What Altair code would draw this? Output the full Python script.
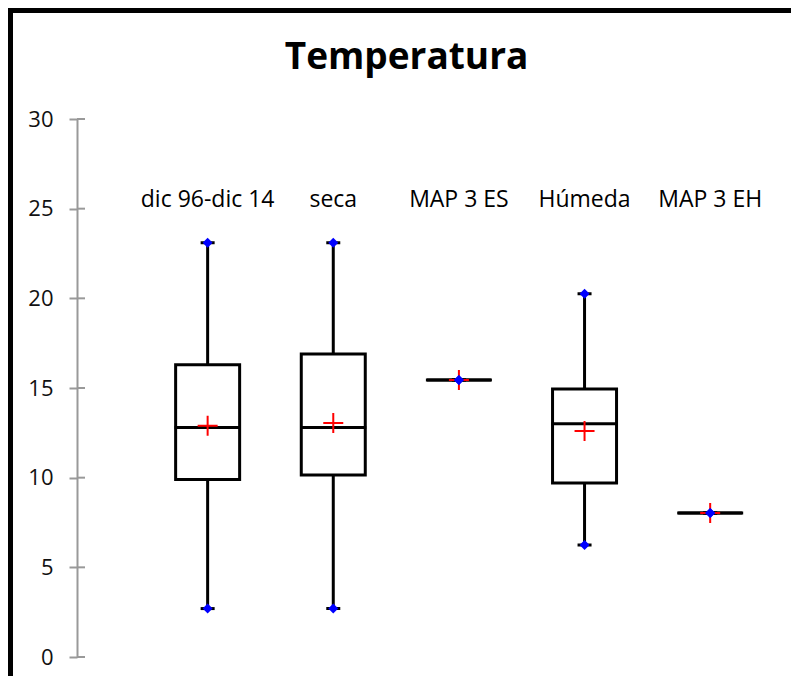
import altair as alt
import pandas as pd

categories = ["dic 96-dic 14", "seca", "MAP 3 ES", "Húmeda", "MAP 3 EH"]
mins = [2.7, 2.7, 15.45, 6.25, 8.03]
q1s = [9.9, 10.15, 15.45, 9.7, 8.03]
medians = [12.8, 12.8, 15.45, 13.0, 8.03]
q3s = [16.3, 16.9, 15.45, 14.95, 8.03]
maxs = [23.1, 23.1, 15.45, 20.25, 8.03]
means = [12.9, 13.05, 15.45, 12.6, 8.03]
y_ticks = [0, 5, 10, 15, 20, 25, 30]

df = pd.DataFrame({
    "cat": categories,
    "idx": list(range(len(categories))),
    "min": mins, "q1": q1s, "median": medians, "q3": q3s, "max": maxs, "mean": means,
})
ticks_df = pd.DataFrame({"t": y_ticks})

FONT = "Open Sans"
PLOT_W = 701
PLOT_H = 538

xs = alt.Scale(domain=[-1, 4.5], nice=False, zero=False)
ys = alt.Scale(domain=[0, 30], nice=False)

x_enc = alt.X("idx:Q", scale=xs, axis=None)

base = alt.Chart(df)

whisk = base.mark_rule(color="black", strokeWidth=3, opacity=1).encode(
    x=x_enc,
    y=alt.Y("min:Q", scale=ys, axis=alt.Axis(
        values=y_ticks, title=None, grid=False,
        domainColor="#999999", domainWidth=2, tickColor="#999999", tickWidth=2, tickSize=8,
        labelFont=FONT, labelFontSize=22, labelColor="#111111", labelPadding=16)),
    y2="max:Q",
)
box = base.mark_bar(size=64, fill="white", stroke="black", strokeWidth=3, opacity=1).encode(
    x=x_enc, y=alt.Y("q1:Q", scale=ys), y2="q3:Q"
)
med = base.mark_tick(orient="horizontal", size=66, thickness=3, color="black", opacity=1).encode(
    x=x_enc, y=alt.Y("median:Q", scale=ys)
)
cap_min = base.mark_tick(orient="horizontal", size=14, thickness=3, color="black", opacity=1).encode(
    x=x_enc, y=alt.Y("min:Q", scale=ys)
)
cap_max = base.mark_tick(orient="horizontal", size=14, thickness=3, color="black", opacity=1).encode(
    x=x_enc, y=alt.Y("max:Q", scale=ys)
)
mean_pt = base.mark_point(shape="M-1,0L1,0M0,-1L0,1", size=400, color="red",
                          strokeWidth=2, filled=False, opacity=1).encode(
    x=x_enc, y=alt.Y("mean:Q", scale=ys)
)
dmin = base.mark_point(shape="diamond", size=100, color="blue", filled=True, opacity=1).encode(
    x=x_enc, y=alt.Y("min:Q", scale=ys)
)
dmax = base.mark_point(shape="diamond", size=100, color="blue", filled=True, opacity=1).encode(
    x=x_enc, y=alt.Y("max:Q", scale=ys)
)
labels = base.mark_text(font=FONT, fontSize=23, color="black", baseline="alphabetic", align="center").encode(
    x=x_enc, y=alt.value(207 - 119), text="cat:N"
)
inner_ticks = alt.Chart(ticks_df).mark_rule(color="#999999", strokeWidth=2).encode(
    x=alt.value(0), x2=alt.value(8), y=alt.Y("t:Q", scale=ys)
)

one = pd.DataFrame({"title": ["Temperatura"]})
title = alt.Chart(one).mark_text(font=FONT, fontSize=37, fontWeight="bold", color="black",
                                 align="center", baseline="alphabetic").encode(
    x=alt.value(406.5 - 77), y=alt.value(69 - 119), text="title:N"
)
frame = alt.Chart(one).mark_rect(fillOpacity=0, stroke="black", strokeWidth=5).encode(
    x=alt.value(-66.5), x2=alt.value(900), y=alt.value(-108.5), y2=alt.value(800)
)

chart = alt.layer(
    frame, inner_ticks, whisk, box, med, cap_min, cap_max, mean_pt, dmin, dmax, labels, title
).properties(
    width=PLOT_W, height=PLOT_H,
    padding={"left": 69, "top": 111, "right": 13, "bottom": 19},
    autosize=alt.AutoSizeParams(type="none"),
    background="white",
).configure_view(strokeWidth=0, strokeOpacity=0)

chart.save("out.html", embed_options={"renderer": "svg", "actions": False})
